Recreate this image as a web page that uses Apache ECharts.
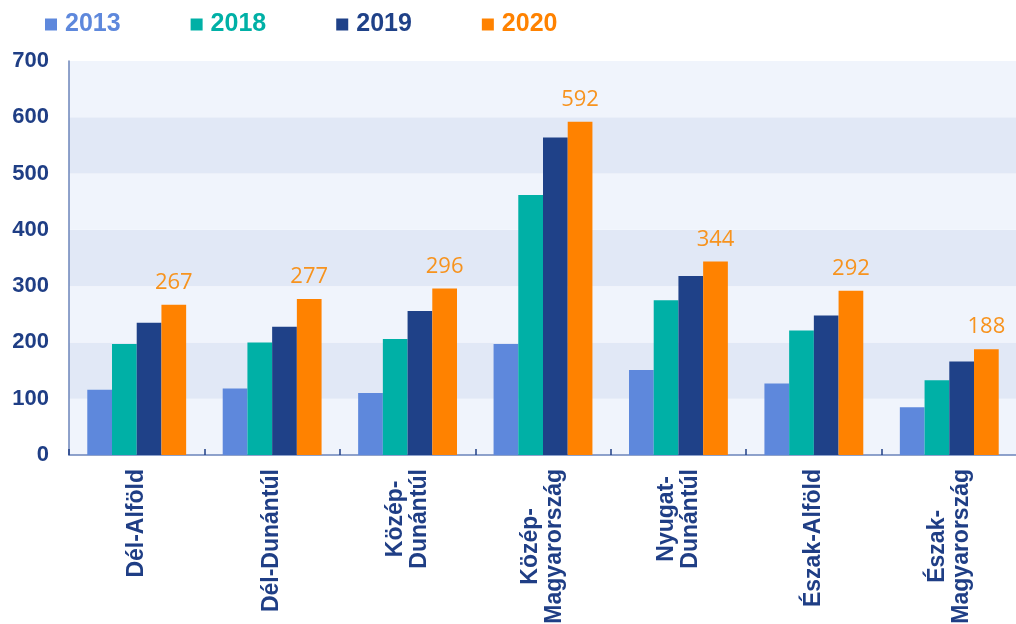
<!DOCTYPE html>
<html>
<head>
<meta charset="utf-8">
<script src="https://cdn.jsdelivr.net/npm/echarts@6/dist/echarts.min.js"></script>
<style>
html,body{margin:0;padding:0;background:#fff;}
#chart{width:1016px;height:624px;}
</style>
</head>
<body>
<div id="chart"></div>
<script>
const categories = ['Dél-Alföld', 'Dél-Dunántúl', 'Közép-\nDunántúl', 'Közép-\nMagyarország', 'Nyugat-\nDunántúl', 'Észak-Alföld', 'Észak-\nMagyarország'];
const seriesNames = ['2013', '2018', '2019', '2020'];
const values2013 = [116, 118, 110, 197, 151, 127, 85];
const values2018 = [197, 200, 206, 462, 275, 221, 133];
const values2019 = [235, 228, 256, 564, 318, 248, 166];
const values2020 = [267, 277, 296, 592, 344, 292, 188];
const yTicks = [0, 100, 200, 300, 400, 500, 600, 700];

const colors = ['#5E88DC', '#00B0A6', '#1F4188', '#FF8200'];
const navy = '#1F3E85';
const allValues = [values2013, values2018, values2019, values2020];

const chart = echarts.init(document.getElementById('chart'));
const series = seriesNames.map((name, i) => ({
  name: name,
  type: 'bar',
  data: allValues[i],
  barGap: '0%',
  barCategoryGap: '27%',
  itemStyle: { color: colors[i] },
  label: i === 3 ? {
    show: true,
    position: 'top',
    distance: 11,
    color: '#F7931E',
    fontFamily: 'Open Sans',
    fontSize: 22
  } : { show: false }
}));

chart.setOption({
  animation: false,
  backgroundColor: '#ffffff',
  legend: {
    left: 40,
    top: 7,
    icon: 'rect',
    itemWidth: 12,
    itemHeight: 12,
    itemGap: 70,
    textStyle: { fontFamily: 'Liberation Sans', fontWeight: 'bold', fontSize: 25, padding: [0, 0, 0, 3] },
    data: seriesNames.map((n, i) => ({ name: n, textStyle: { color: colors[i] } }))
  },
  grid: { left: 69, right: -1, top: 61, bottom: 169, containLabel: false, outerBoundsMode: 'none' },
  xAxis: {
    type: 'category',
    data: categories,
    axisLine: { show: true, lineStyle: { color: '#6B84BA', width: 1.5 } },
    axisTick: { show: true, inside: true, length: 6, lineStyle: { color: navy, width: 1.5 } },
    axisLabel: {
      interval: 0,
      rotate: 90,
      margin: 14,
      formatter: v => v.split('\n').map(s => '{c|' + s + '}').join('\n'),
      rich: {
        c: {
          align: 'center',
          fontFamily: 'Liberation Sans',
          fontWeight: 'bold',
          fontSize: 23,
          lineHeight: 24,
          color: navy
        }
      }
    }
  },
  yAxis: {
    type: 'value',
    min: yTicks[0],
    max: yTicks[yTicks.length - 1],
    interval: 100,
    axisLine: { show: true, lineStyle: { color: '#6B84BA', width: 1.5 } },
    axisTick: { show: false },
    axisLabel: {
      margin: 20,
      fontFamily: 'Liberation Sans',
      fontWeight: 'bold',
      fontSize: 22,
      color: navy
    },
    splitLine: { show: false },
    splitArea: { show: true, areaStyle: { color: ['#F0F4FC', '#E1E8F6'] } }
  },
  series: series
});
</script>
</body>
</html>
